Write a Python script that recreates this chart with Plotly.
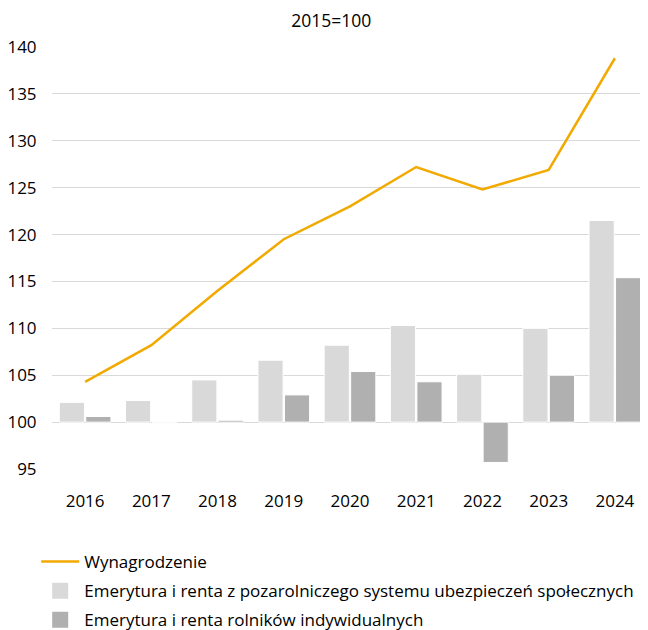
import plotly.graph_objects as go

years = ["2016", "2017", "2018", "2019", "2020", "2021", "2022", "2023", "2024"]
wynagrodzenie = [104.3, 108.2, 114.0, 119.5, 123.0, 127.2, 124.8, 126.9, 138.8]
pozarolnicze = [102.1, 102.3, 104.5, 106.6, 108.2, 110.3, 105.1, 110.0, 121.5]
rolnicy = [100.6, 100.0, 100.2, 102.9, 105.4, 104.3, 95.7, 105.0, 115.4]
base = 100
y_ticks = [95, 100, 105, 110, 115, 120, 125, 130, 135, 140]

name_w = "Wynagrodzenie"
name_p = "Emerytura i renta z pozarolniczego systemu ubezpieczeń społecznych"
name_r = "Emerytura i renta rolników indywidualnych"
c_line = "#F2A900"
c_p = "#D9D9D9"
c_r = "#B0B0B0"

fig = go.Figure()
fig.add_trace(go.Bar(
    x=years, y=[v - base for v in pozarolnicze], base=base,
    name=name_p, showlegend=False,
    marker=dict(color=c_p, line=dict(color="white", width=1))))
fig.add_trace(go.Bar(
    x=years, y=[v - base for v in rolnicy], base=base,
    name=name_r, showlegend=False,
    marker=dict(color=c_r, line=dict(color="white", width=1))))
fig.add_trace(go.Scatter(
    x=years, y=wynagrodzenie, mode="lines", name=name_w,
    legendgroup="w", legendrank=1,
    line=dict(color=c_line, width=2.5)))
# legend entries with larger swatches
fig.add_trace(go.Scatter(
    x=[None], y=[None], mode="markers", name=name_p, legendgroup="p", legendrank=2,
    marker=dict(symbol="square", size=16, color=c_p)))
fig.add_trace(go.Scatter(
    x=[None], y=[None], mode="markers", name=name_r, legendgroup="r", legendrank=3,
    marker=dict(symbol="square", size=16, color=c_r)))

fig.update_layout(
    width=640, height=622,
    margin=dict(l=44, r=0, t=39, b=161, autoexpand=False),
    paper_bgcolor="white", plot_bgcolor="white",
    font=dict(family="Open Sans", size=17, color="#000000"),
    barmode="group", bargap=0.2, bargroupgap=0.05,
    title=dict(text="2015=100", x=0.505, xref="container", xanchor="center",
               y=0.980, yref="container", yanchor="middle",
               font=dict(size=17.5, color="#000")),
    showlegend=True,
    legend=dict(orientation="v", x=-0.0265, xanchor="left", y=-0.1777, yanchor="top",
                font=dict(size=17), traceorder="grouped", tracegroupgap=4,
                itemwidth=38),
    xaxis=dict(type="category", showgrid=False, showline=False, ticks="outside",
               ticklen=0, ticklabelstandoff=17, tickfont=dict(size=17)),
    yaxis=dict(range=[95, 140], tickvals=y_ticks, showgrid=True,
               gridcolor="#D9D9D9", gridwidth=1, zeroline=False,
               showline=False, ticks="outside", ticklen=0, ticklabelstandoff=11,
               tickfont=dict(size=17)),
)

fig.write_html("out.html")
